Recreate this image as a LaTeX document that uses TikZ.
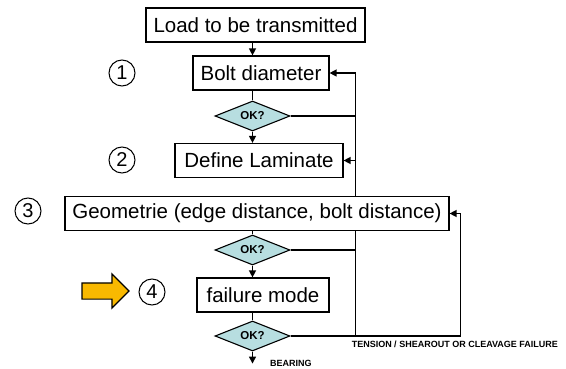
\documentclass[tikz,border=0pt]{standalone}
\usepackage{fontspec}
\setmainfont{Liberation Sans}
\usepackage{tikz}
\usetikzlibrary{positioning,arrows.meta,calc,shapes.geometric,shapes.arrows,backgrounds}
\definecolor{okfill}{RGB}{183,222,224}
\definecolor{hintyellow}{RGB}{249,185,0}

\begin{document}
\begin{tikzpicture}[
		x=1pt, y=-1pt,
		box/.style={draw, fill=white, line width=1.2pt, inner sep=0pt,
				minimum height=34pt, font=\fontsize{20.5}{22}\selectfont},
		check/.style={draw, diamond, fill=okfill, line width=1.1pt, inner sep=0pt,
				aspect=2.5, minimum width=75pt, minimum height=30pt,
				font=\fontsize{11.5}{12}\selectfont\bfseries},
		num/.style={draw, circle, line width=1pt, inner sep=0pt,
				minimum size=26pt, font=\fontsize{20}{20}\selectfont},
		lbl/.style={font=\fontsize{9}{10}\selectfont\bfseries, inner sep=0pt},
		arr/.style={-{Triangle[length=7pt,width=7pt]}, line width=1.3pt},
		link/.style={line width=1.3pt}
		]
		\useasboundingbox (0,0) rectangle (566,369);
		% main column
		\node[box, minimum width=219pt] (load) at (255.5,25) {Load to be transmitted};
		\node[box, minimum width=136pt] (bolt) at (261,73) {Bolt diameter};
		\node[check] (ok1) at (252.5,116) {OK?};
		\node[box, minimum width=168pt] (lam) at (259,160.5) {Define Laminate};
		\node[box, minimum width=384pt] (geo) at (257,213.5)
		{Geometrie (edge distance, bolt distance)};
		\node[check] (ok2) at (252.5,250) {OK?};
		\node[box, minimum width=132pt] (fail) at (263,295) {failure mode};
		\node[check] (ok3) at (252.5,336) {OK?};
		% step numbers
		\node[num] (n1) at (122,73) {1};
		\node[num] (n2) at (122,160) {2};
		\node[num] (n3) at (28,211) {3};
		\node[num] (n4) at (152,292) {4};
		\node[single arrow, draw, fill=hintyellow, line width=1.2pt, inner sep=7.5pt,
			minimum height=47pt, single arrow head extend=9pt] (hint) at (101.5,291) {};
		% return lines
		\coordinate (trunk) at ($(ok3.east)+(65,0)$);
		\coordinate (loop) at ($(ok3.east)+(170,0)$);
		% forward flow
		\draw[arr] (load.south -| ok1) -- (bolt.north -| ok1);
		\draw[link] (bolt.south -| ok1) -- (ok1.north);
		\draw[arr] (ok1.south) -- (lam.north -| ok1);
		\draw[link] (geo.south -| ok2) -- (ok2.north);
		\draw[arr] (ok2.south) -- (fail.north -| ok2);
		\draw[link] (fail.south -| ok3) -- (ok3.north);
		\draw[arr] (ok3.south) -- ++(0,12)
		node[lbl, anchor=west, xshift=17pt] (bear) {BEARING};
		% feedback: trunk runs behind the geometry box
		\begin{scope}[on background layer]
			\draw[arr] (trunk) |- (bolt.east);
		\end{scope}
		\draw[arr] (trunk |- lam.east) -- (lam.east);
		\draw[link] (ok1.east) -- (ok1.east -| trunk);
		\draw[link] (ok2.east) -- (ok2.east -| trunk);
		\draw[arr] (ok3.east) -- (loop) |- (geo.east);
		\node[lbl, anchor=west] (fmodes) at ($(trunk)+(-4,8)$)
		{TENSION / SHEAROUT OR CLEAVAGE\ FAILURE};
	\end{tikzpicture}
\end{document}
